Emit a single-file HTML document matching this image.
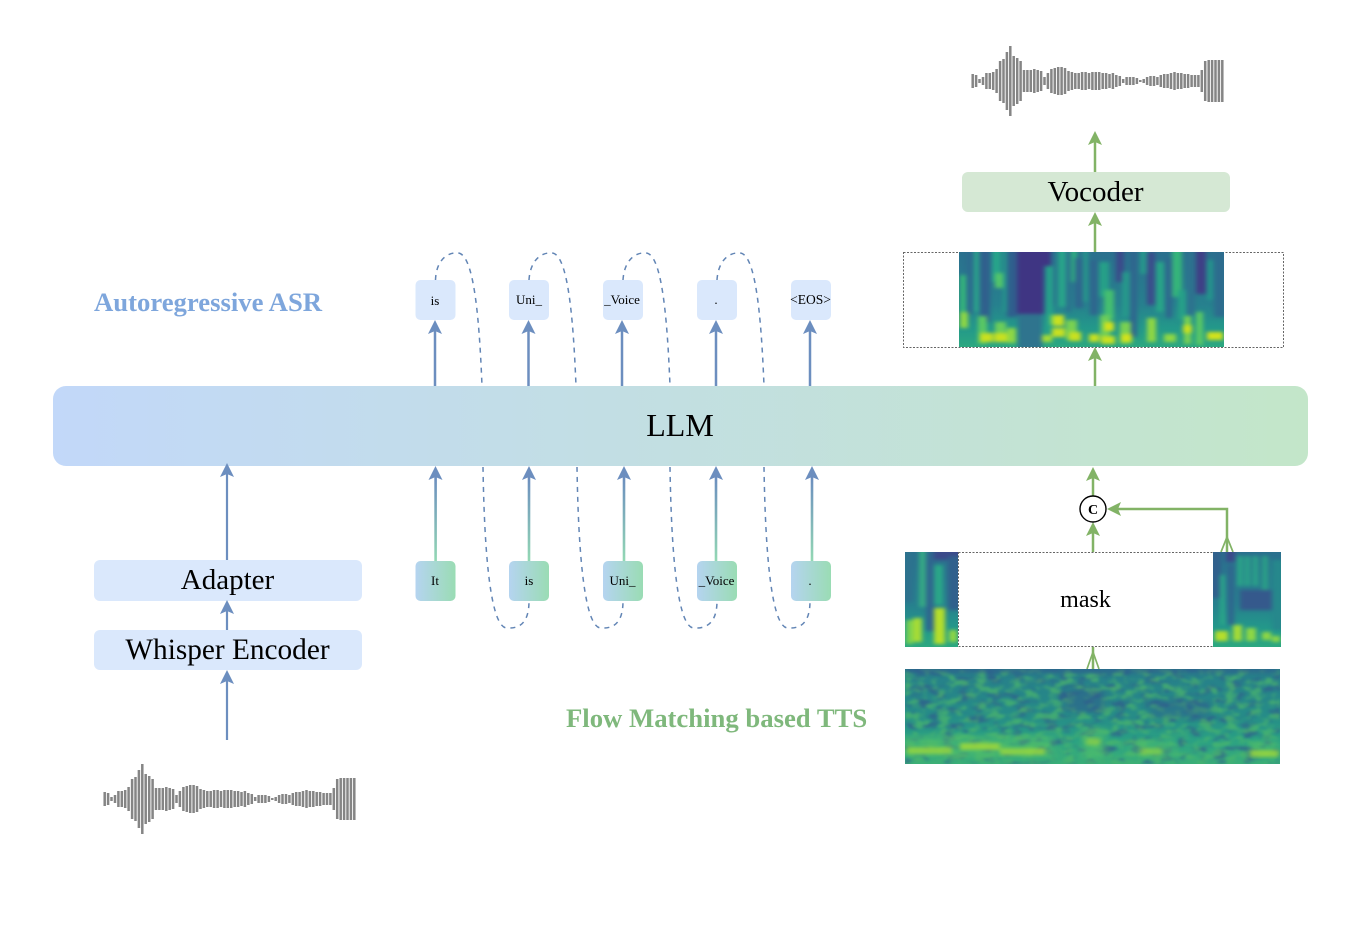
<!DOCTYPE html>
<html>
<head>
<meta charset="utf-8">
<title>Diagram</title>
<style>
html,body{margin:0;padding:0;background:#fff;}
svg{display:block;}
text{font-family:"Liberation Serif",serif;fill:#000;}
</style>
</head>
<body>
<svg width="1362" height="928" viewBox="0 0 1362 928" xmlns="http://www.w3.org/2000/svg">
<defs>
<linearGradient id="llm" x1="0" x2="1" y1="0" y2="0"><stop offset="0" stop-color="#c2d8f9"/><stop offset="1" stop-color="#c3e6c9"/></linearGradient>
<linearGradient id="tok" x1="0" x2="1" y1="0" y2="0"><stop offset="0" stop-color="#b5d4f0"/><stop offset="1" stop-color="#9adcb4"/></linearGradient>
<linearGradient id="up" x1="0" x2="0" y1="0" y2="1"><stop offset="0" stop-color="#6c8ebf"/><stop offset="1" stop-color="#93d8b4"/></linearGradient>
<linearGradient id="sp" x1="0" x2="0" y1="0" y2="1"><stop offset="0" stop-color="#2b708e"/><stop offset=".55" stop-color="#27808e"/><stop offset=".8" stop-color="#23988a"/><stop offset="1" stop-color="#2ca880"/></linearGradient>
<linearGradient id="sp2" x1="0" x2="0" y1="0" y2="1"><stop offset="0" stop-color="#277e8a"/><stop offset=".5" stop-color="#268c88"/><stop offset=".75" stop-color="#2aa084"/><stop offset="1" stop-color="#3aae78"/></linearGradient>
<filter id="b" x="-10%" y="-10%" width="120%" height="120%" color-interpolation-filters="sRGB"><feGaussianBlur stdDeviation="2.400 1.800"/></filter>
<filter id="b2" x="-10%" y="-10%" width="120%" height="120%" color-interpolation-filters="sRGB"><feGaussianBlur stdDeviation="4 2"/></filter>
<filter id="ng" x="0" y="0" width="100%" height="100%" color-interpolation-filters="sRGB"><feTurbulence type="fractalNoise" baseFrequency=".08 .15" numOctaves="2" seed="4"/><feColorMatrix type="matrix" values="0 0 0 0 .3  0 0 0 0 .72  0 0 0 0 .42  4 0 0 0 -1.800"/><feGaussianBlur stdDeviation="1.400"/></filter>
<filter id="nd" x="0" y="0" width="100%" height="100%" color-interpolation-filters="sRGB"><feTurbulence type="fractalNoise" baseFrequency=".07 .13" numOctaves="2" seed="11"/><feColorMatrix type="matrix" values="0 0 0 0 .19  0 0 0 0 .36  0 0 0 0 .55  4 0 0 0 -2"/><feGaussianBlur stdDeviation="1.400"/></filter>
<clipPath id="c1"><rect x="959" y="252" width="265" height="95"/></clipPath>
<clipPath id="c2"><rect x="905" y="552" width="53" height="95"/></clipPath>
<clipPath id="c3"><rect x="1213" y="552" width="68" height="95"/></clipPath>
<clipPath id="c4"><rect x="905" y="669" width="375" height="95"/></clipPath>
<path id="wave" fill="none" stroke="#858585" stroke-width="2.500" d="M972.7 74V88M976.1 75V87M979.5 79V83M983 77V85M986.4 73V89M989.8 73V89M993.2 72V90M996.6 69V93M1000.1 61V101M1003.5 59V103M1006.9 52V110M1010.3 46V116M1013.7 56V106M1017.2 58V104M1020.6 61V101M1024 70V92M1027.4 70V92M1030.8 70V92M1034.3 69V93M1037.7 70V92M1041.1 71V91M1044.5 77V85M1047.9 73V89M1051.4 69V93M1054.8 68V94M1058.2 67V95M1061.6 67V95M1065 68V94M1068.5 71V91M1071.9 72V90M1075.3 73V89M1078.7 73V89M1082.1 72V90M1085.6 72V90M1089 73V89M1092.4 72V90M1095.8 72V90M1099.2 72V90M1102.7 73V89M1106.1 73V89M1109.5 74V88M1112.9 73V89M1116.3 75V87M1119.8 76V86M1123.2 79V83M1126.6 77V85M1130 77V85M1133.4 77V85M1136.9 78V84M1140.3 80V82M1143.7 79V83M1147.1 77V85M1150.5 76V86M1154 76V86M1157.4 77V85M1160.8 75V87M1164.2 74V88M1167.6 74V88M1171 73V89M1174.5 72V90M1177.9 73V89M1181.3 73V89M1184.7 74V88M1188.1 74V88M1191.6 75V87M1195 75V87M1198.4 75V87M1201.8 70V92M1205.2 61V101M1208.7 60V102M1212.1 60V102M1215.5 60V102M1218.9 60V102M1222.3 60V102"/>
<polygon id="ab" points="0,0 7,14 0,11 -7,14" fill="#6c8ebf"/>
<polygon id="ag" points="0,0 7,14 0,11 -7,14" fill="#82b366"/>
</defs>

<rect width="1362" height="928" fill="#fff"/>

<!-- waveforms -->
<use href="#wave"/>
<use href="#wave" transform="translate(-868 718)"/>

<!-- LLM -->
<rect x="53" y="386" width="1255" height="80" rx="13" fill="url(#llm)"/>
<text x="680" y="436" font-size="32" text-anchor="middle">LLM</text>

<!-- labels -->
<text x="94" y="311" font-size="26.700" font-weight="bold" style="fill:#7ea6dc">Autoregressive ASR</text>
<text x="566" y="727" font-size="26.700" font-weight="bold" style="fill:#7fb87c">Flow Matching based TTS</text>

<!-- left boxes -->
<rect x="94" y="560" width="268" height="41" rx="6" fill="#dae8fc"/>
<text x="227.500" y="589" font-size="29" text-anchor="middle">Adapter</text>
<rect x="94" y="630" width="268" height="40" rx="6" fill="#dae8fc"/>
<text x="227.500" y="659" font-size="29.300" text-anchor="middle">Whisper Encoder</text>
<g stroke="#6c8ebf" stroke-width="2.200">
<line x1="227" y1="474" x2="227" y2="560"/>
<line x1="227" y1="611" x2="227" y2="630"/>
<line x1="227" y1="681" x2="227" y2="740"/>
</g>
<use href="#ab" x="227" y="463"/>
<use href="#ab" x="227" y="600"/>
<use href="#ab" x="227" y="670"/>

<!-- token boxes top -->
<g fill="#dae8fc">
<rect x="415.500" y="280" width="40" height="40" rx="5"/>
<rect x="509" y="280" width="40" height="40" rx="5"/>
<rect x="603" y="280" width="40" height="40" rx="5"/>
<rect x="697" y="280" width="40" height="40" rx="5"/>
<rect x="791" y="280" width="40" height="40" rx="5"/>
</g>
<g font-size="13" text-anchor="middle">
<text x="435" y="305">is</text>
<text x="529" y="304">Uni_</text>
<text x="622" y="304">_Voice</text>
<text x="716" y="304">.</text>
<text x="810.500" y="304" font-size="13.500">&lt;EOS&gt;</text>
</g>
<g stroke="#6c8ebf" stroke-width="2.500">
<line x1="435" y1="330" x2="435" y2="386"/>
<line x1="528.500" y1="330" x2="528.500" y2="386"/>
<line x1="622" y1="330" x2="622" y2="386"/>
<line x1="716" y1="330" x2="716" y2="386"/>
<line x1="810" y1="330" x2="810" y2="386"/>
</g>
<use href="#ab" x="435" y="320"/>
<use href="#ab" x="528.500" y="320"/>
<use href="#ab" x="622" y="320"/>
<use href="#ab" x="716" y="320"/>
<use href="#ab" x="810" y="320"/>

<!-- token boxes bottom -->
<g fill="url(#tok)">
<rect x="415.500" y="561" width="40" height="40" rx="5"/>
<rect x="509" y="561" width="40" height="40" rx="5"/>
<rect x="603" y="561" width="40" height="40" rx="5"/>
<rect x="697" y="561" width="40" height="40" rx="5"/>
<rect x="791" y="561" width="40" height="40" rx="5"/>
</g>
<g font-size="13" text-anchor="middle">
<text x="435" y="585">It</text>
<text x="529" y="585">is</text>
<text x="622.500" y="585">Uni_</text>
<text x="716.500" y="585">_Voice</text>
<text x="810" y="585">.</text>
</g>
<g fill="url(#up)">
<rect x="434.300" y="477" width="2.600" height="84"/>
<rect x="527.700" y="477" width="2.600" height="84"/>
<rect x="622.700" y="477" width="2.600" height="84"/>
<rect x="714.700" y="477" width="2.600" height="84"/>
<rect x="810.700" y="477" width="2.600" height="84"/>
</g>
<use href="#ab" x="435.500" y="466"/>
<use href="#ab" x="529" y="466"/>
<use href="#ab" x="624" y="466"/>
<use href="#ab" x="716" y="466"/>
<use href="#ab" x="812" y="466"/>

<!-- dashed loops -->
<g fill="none" stroke="#6285b5" stroke-width="1.500" stroke-dasharray="5 5">
<path d="M435.500 280C436 263 445 252 458 253C473 254 479 310 482 386"/>
<path d="M529 280C530 263 539 252 552 253C567 254 573 310 576 386"/>
<path d="M623 280C624 263 633 252 646 253C661 254 667 310 670 386"/>
<path d="M717 280C718 263 727 252 740 253C755 254 761 310 764 386"/>
<path d="M483 467C484 530 488 628 507 628C522 629 529 620 529 601"/>
<path d="M577 467C578 530 582 628 601 628C616 629 623 620 623 601"/>
<path d="M670 467C671 530 675 628 694 628C709 629 717 620 717 601"/>
<path d="M764 467C765 530 769 628 788 628C803 629 810 620 810 601"/>
</g>

<!-- vocoder -->
<rect x="962" y="172" width="268" height="40" rx="6" fill="#d5e8d4"/>
<text x="1095.500" y="201" font-size="29" text-anchor="middle">Vocoder</text>
<g stroke="#82b366" stroke-width="2.500" fill="none">
<line x1="1095" y1="142" x2="1095" y2="172"/>
<line x1="1095" y1="223" x2="1095" y2="252"/>
<line x1="1095" y1="358" x2="1095" y2="386"/>
<line x1="1093" y1="478" x2="1093" y2="496"/>
<line x1="1093" y1="532" x2="1093" y2="552"/>
<polyline points="1227,552 1227,509 1118,509"/>
<line x1="1093" y1="647" x2="1093" y2="669"/>
<polyline points="1087,669 1093,652 1099,669" stroke-width="1.700"/>
<polyline points="1221,552 1227,537 1233,552" stroke-width="1.700"/>
</g>
<use href="#ag" x="1095" y="131"/>
<use href="#ag" x="1095" y="212"/>
<use href="#ag" x="1095" y="347"/>
<use href="#ag" x="1093" y="467"/>
<use href="#ag" x="1093" y="522"/>
<polygon points="1107,509 1121,502 1118,509 1121,516" fill="#82b366"/>
<circle cx="1093" cy="509" r="13" fill="#fff" stroke="#000" stroke-width="1.400"/>
<text x="1093" y="514" font-size="14" font-weight="bold" text-anchor="middle">C</text>

<!-- top dashed frame + spectrogram -->
<rect x="903.500" y="252.500" width="380" height="95" fill="#fff" stroke="#666" stroke-width="1" stroke-dasharray="2 1.500"/>
<g clip-path="url(#c1)">
<rect x="959" y="252" width="265" height="95" fill="url(#sp)"/>
<g filter="url(#b)">
<rect x="960" y="275" width="6" height="45" fill="#35b779"/>
<rect x="967" y="248" width="6" height="66" fill="#2d6a8e"/>
<rect x="974" y="248" width="5" height="64" fill="#2aa58a"/>
<rect x="980" y="248" width="10" height="74" fill="#30608d"/>
<rect x="992" y="248" width="9" height="34" fill="#27a58a"/>
<rect x="995" y="273" width="9" height="15" fill="#54c56a"/>
<rect x="1003" y="248" width="4" height="64" fill="#24988b"/>
<rect x="1007" y="248" width="10" height="69" fill="#2f5f8d"/>
<rect x="1017" y="248" width="27" height="66" fill="#3f3583"/>
<rect x="1018" y="314" width="24" height="36" fill="#2f748e"/>
<rect x="1043" y="248" width="8" height="18" fill="#3f3583"/>
<rect x="1046" y="266" width="7" height="66" fill="#26a28a"/>
<rect x="1053" y="252" width="4" height="53" fill="#2a758e"/>
<rect x="1058" y="248" width="8" height="59" fill="#28a58a"/>
<rect x="1066" y="248" width="5" height="64" fill="#2c708e"/>
<rect x="1071" y="248" width="6" height="34" fill="#2eb07e"/>
<rect x="1075" y="258" width="8" height="50" fill="#2f668e"/>
<rect x="1083" y="248" width="5" height="54" fill="#26988b"/>
<rect x="1090" y="260" width="8" height="55" fill="#2f668e"/>
<rect x="1099" y="262" width="10" height="35" fill="#26a088"/>
<rect x="1104" y="290" width="10" height="30" fill="#45bf70"/>
<rect x="1116" y="248" width="8" height="34" fill="#3b4a8a"/>
<rect x="1122" y="272" width="8" height="45" fill="#26988b"/>
<rect x="1130" y="248" width="7" height="89" fill="#2f668e"/>
<rect x="1140" y="248" width="8" height="26" fill="#26988b"/>
<rect x="1147" y="252" width="8" height="53" fill="#3b4c8b"/>
<rect x="1156" y="262" width="8" height="50" fill="#28a588"/>
<rect x="1166" y="258" width="6" height="60" fill="#2f668e"/>
<rect x="1172" y="248" width="10" height="49" fill="#35b57a"/>
<rect x="1178" y="290" width="8" height="30" fill="#26a088"/>
<rect x="1187" y="252" width="8" height="63" fill="#2d728e"/>
<rect x="1196" y="248" width="10" height="46" fill="#3f3f86"/>
<rect x="1207" y="260" width="6" height="40" fill="#24958c"/>
<rect x="1214" y="248" width="12" height="69" fill="#2d6c8e"/>
<!-- low bright formants -->
<rect x="960" y="312" width="8" height="16" fill="#8fd744"/>
<rect x="978" y="316" width="9" height="28" fill="#5ac864"/>
<rect x="980" y="333" width="13" height="9" fill="#c8e020"/>
<rect x="995" y="322" width="11" height="20" fill="#6ccd5a"/>
<rect x="994" y="333" width="13" height="9" fill="#c8e020"/>
<rect x="1007" y="328" width="9" height="15" fill="#8fd744"/>
<rect x="1042" y="335" width="10" height="7" fill="#a5db36"/>
<rect x="1050" y="315" width="9" height="10" fill="#6ccd5a"/>
<rect x="1053" y="315" width="11" height="11" fill="#c8e020"/>
<rect x="1052" y="328" width="13" height="9" fill="#c8e020"/>
<rect x="1066" y="320" width="11" height="20" fill="#7ad151"/>
<rect x="1069" y="332" width="12" height="9" fill="#c8e020"/>
<rect x="1089" y="334" width="10" height="8" fill="#c8e020"/>
<rect x="1100" y="315" width="10" height="25" fill="#6ccd5a"/>
<rect x="1104" y="322" width="10" height="9" fill="#d2e21b"/>
<rect x="1101" y="336" width="14" height="8" fill="#c8e020"/>
<rect x="1120" y="322" width="11" height="22" fill="#7ad151"/>
<rect x="1121" y="334" width="11" height="8" fill="#d2e21b"/>
<rect x="1147" y="318" width="9" height="24" fill="#8fd744"/>
<rect x="1164" y="334" width="12" height="8" fill="#8fd744"/>
<rect x="1184" y="316" width="7" height="28" fill="#7ad151"/>
<rect x="1183" y="325" width="9" height="8" fill="#c8e020"/>
<rect x="1196" y="312" width="7" height="33" fill="#5ac864"/>
<rect x="1207" y="332" width="16" height="8" fill="#d2e21b"/>
</g>
</g>

<!-- mask row -->
<rect x="958.500" y="552.500" width="255" height="94" fill="#fff" stroke="#666" stroke-width="1" stroke-dasharray="2 1.500"/>
<text x="1085.500" y="607" font-size="24" text-anchor="middle">mask</text>
<g clip-path="url(#c2)">
<rect x="905" y="552" width="53" height="95" fill="url(#sp)"/>
<g filter="url(#b)">
<rect x="902" y="548" width="11" height="54" fill="#2d728e"/>
<rect x="919" y="548" width="7" height="59" fill="#35a985"/>
<rect x="926" y="552" width="8" height="79" fill="#2f668e"/>
<rect x="934" y="565" width="9" height="40" fill="#2aa788"/>
<rect x="934" y="548" width="28" height="12" fill="#3b4a8a"/>
<rect x="948" y="556" width="14" height="54" fill="#31608c"/>
<rect x="906" y="620" width="7" height="24" fill="#7ad151"/>
<rect x="913" y="618" width="9" height="24" fill="#a5db36"/>
<rect x="934" y="608" width="11" height="36" fill="#b5de2b"/>
<rect x="949" y="630" width="8" height="12" fill="#8fd744"/>
</g>
</g>
<g clip-path="url(#c3)">
<rect x="1213" y="552" width="68" height="95" fill="url(#sp)"/>
<g filter="url(#b)">
<rect x="1210" y="548" width="11" height="50" fill="#31608c"/>
<rect x="1220" y="575" width="5" height="50" fill="#2aa788"/>
<rect x="1226" y="548" width="9" height="14" fill="#3b4a8a"/>
<rect x="1228" y="565" width="6" height="60" fill="#2f668e"/>
<rect x="1237" y="556" width="6" height="30" fill="#2aa588"/>
<rect x="1245" y="556" width="5" height="30" fill="#2aa788"/>
<rect x="1253" y="556" width="5" height="30" fill="#2aa788"/>
<rect x="1262" y="556" width="6" height="35" fill="#2aa087"/>
<rect x="1240" y="590" width="34" height="20" fill="#35598c"/>
<rect x="1272" y="560" width="12" height="70" fill="#26888c"/>
<rect x="1215" y="631" width="13" height="10" fill="#b5de2b"/>
<rect x="1233" y="625" width="9" height="16" fill="#a5db36"/>
<rect x="1246" y="628" width="10" height="13" fill="#8fd744"/>
<rect x="1262" y="632" width="9" height="8" fill="#8fd744"/>
<rect x="1272" y="636" width="8" height="6" fill="#8fd744"/>
</g>
</g>

<!-- noisy spectrogram -->
<g clip-path="url(#c4)">
<rect x="905" y="669" width="375" height="95" fill="url(#sp2)"/>
<rect x="905" y="669" width="375" height="95" filter="url(#nd)" opacity=".7"/>
<rect x="905" y="669" width="375" height="95" filter="url(#ng)" opacity=".7"/>
<g filter="url(#b2)">
<rect x="1065" y="690" width="40" height="22" fill="#2f5a8e" opacity=".5"/>
<rect x="1150" y="700" width="60" height="18" fill="#2f5a8e" opacity=".4"/>
<rect x="905" y="667" width="375" height="6" fill="#2f5a8e" opacity=".6"/>
<rect x="905" y="735" width="150" height="22" fill="#5ac864" opacity=".4"/>
<rect x="1082" y="728" width="24" height="30" fill="#5ac864" opacity=".5"/>
<rect x="1130" y="740" width="45" height="16" fill="#5ac864" opacity=".35"/>
<rect x="1250" y="740" width="28" height="14" fill="#5ac864" opacity=".35"/>
</g>
<g filter="url(#b)" fill="#a5db36">
<rect x="907" y="747" width="45" height="7" opacity=".7"/>
<rect x="960" y="743" width="40" height="7" opacity=".8"/>
<rect x="1000" y="748" width="45" height="7" opacity=".7"/>
<rect x="1086" y="738" width="14" height="7" opacity=".55"/>
<rect x="1140" y="748" width="22" height="7" opacity=".5"/>
<rect x="1250" y="750" width="28" height="7" opacity=".75"/>
</g>
</g>
</svg>
</body>
</html>
